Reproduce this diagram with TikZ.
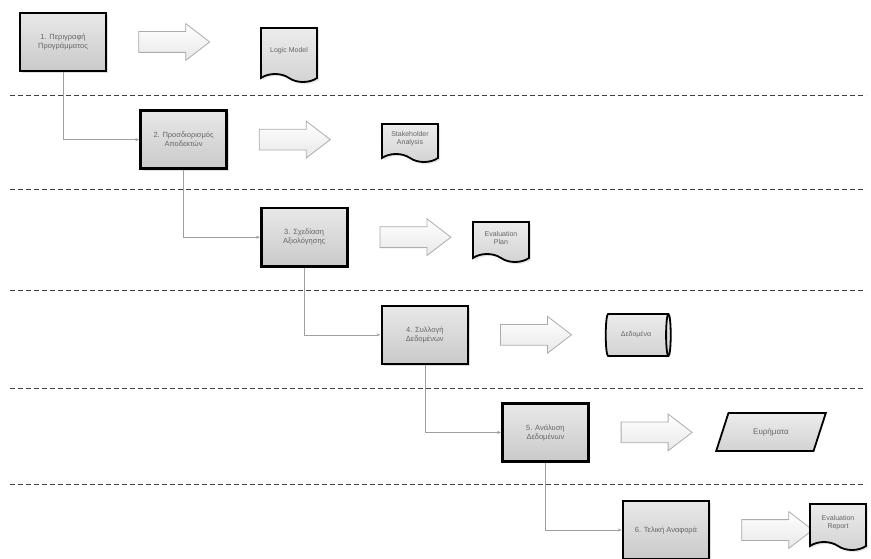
\documentclass[tikz,border=0pt]{standalone}
\usepackage{fontspec}
\setmainfont{Liberation Sans}
\usepackage{tikz}
\usetikzlibrary{arrows.meta,positioning,shapes.arrows,shapes.symbols,shapes.geometric,shadows}

\begin{document}
\begin{tikzpicture}[x=1pt,y=-1pt,
      box_step/.style={
         rectangle,
         draw=black,
         line width=2.6pt,
         top color=gray!18,
         bottom color=gray!42,
         minimum width=86pt,
         minimum height=58pt,
         align=center,
         text=black!60,
         font=\fontsize{7.5}{9}\selectfont,
         drop shadow={shadow xshift=2pt,shadow yshift=-2pt,opacity=0.25}},
      box_doc/.style={
         tape,
         tape bend top=none,
         tape bend bottom=out and in,
         tape bend height=8pt,
         draw=black,
         line width=1.8pt,
         top color=gray!15,
         bottom color=gray!35,
         minimum width=56pt,
         inner sep=1pt,
         align=center,
         text=black!60,
         font=\fontsize{7}{8}\selectfont,
         drop shadow={shadow xshift=2pt,shadow yshift=-2pt,opacity=0.2}},
      box_data/.style={
         cylinder,
         shape aspect=0.35,
         draw=black,
         line width=1.8pt,
         top color=gray!15,
         bottom color=gray!35,
         minimum width=42pt,
         minimum height=65pt,
         text=black!60,
         font=\fontsize{7}{8}\selectfont},
      box_io/.style={
         trapezium,
         trapezium left angle=67,
         trapezium right angle=113,
         trapezium stretches=true,
         draw=black,
         line width=1.8pt,
         top color=gray!15,
         bottom color=gray!35,
         minimum width=110pt,
         minimum height=38pt,
         text=black!60,
         font=\fontsize{8}{9}\selectfont},
      arrow_block/.style={
         single arrow,
         draw=gray!65,
         line width=0.8pt,
         top color=white,
         bottom color=gray!18,
         inner xsep=0pt,
         inner ysep=10pt,
         minimum height=71pt,
         single arrow tip angle=75,
         single arrow head extend=8pt},
      line_conn/.style={
         draw=gray!75,
         line width=0.6pt,
         -{Stealth[length=4pt,width=3pt]}},
      line_sep/.style={
         draw=black!75,
         line width=1pt,
         dash pattern=on 5pt off 3pt},
]
      \useasboundingbox (0,0) rectangle (871,559);

      % separators
      \foreach \y in {96,190,290,388,484}
        \draw [line_sep] (10,\y) -- (866,\y);

      % steps
      \node[box_step] (s1) at (63,42) {1. Περιγραφή\\Προγράμματος};
      \node[box_step,below right=37pt and 32pt of s1] (s2) {2. Προσδιορισμός\\Αποδεκτών};
      \node[box_step,below right=37pt and 32pt of s2] (s3) {3. Σχεδίαση\\Αξιολόγησης};
      \node[box_step,below right=37pt and 32pt of s3] (s4) {4. Συλλογή\\Δεδομένων};
      \node[box_step,below right=37pt and 32pt of s4] (s5) {5. Ανάλυση\\Δεδομένων};
      \node[box_step,below right=37pt and 32pt of s5] (s6) {6. Τελική Αναφορά};

      % block arrows
      \foreach \i in {1,...,6}
        \node[arrow_block,right=31pt of s\i] (a\i) {};

      % outputs
      \node[box_doc,minimum height=54pt] (o1) at (289,51) {Logic Model};
      \node[box_doc,minimum height=38pt] (o2) at (410,139) {Stakeholder\\Analysis};
      \node[box_doc,minimum height=40pt] (o3) at (501,238) {Evaluation\\Plan};
      \node[box_data] (o4) at (636,335) {Δεδομένα};
      \node[box_io] (o5) at (771,432) {Ευρήματα};
      \node[box_doc,minimum height=46pt] (o6) at (838,523) {Evaluation\\Report};

      \foreach \i/\j in {s1/s2,s2/s3,s3/s4,s4/s5,s5/s6}
        \draw [line_conn] (\i.south) |- (\j.west);

\end{tikzpicture}
\end{document}
